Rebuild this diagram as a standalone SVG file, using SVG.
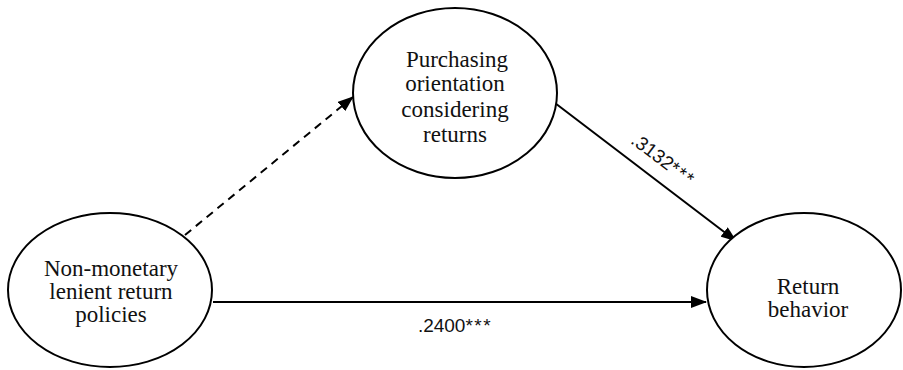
<svg xmlns="http://www.w3.org/2000/svg" width="903" height="370" viewBox="0 0 903 370">
<defs>
<style>
.node{fill:#fff;stroke:#000;stroke-width:2}
.lbl{font-family:"Liberation Serif","DejaVu Serif",serif;font-size:23px;fill:#111;text-anchor:middle}
.edge{stroke:#000;stroke-width:2;fill:none}
.coef{font-family:"Liberation Sans",Arial,sans-serif;font-size:19px;fill:#111;text-anchor:middle}
.st{letter-spacing:1.5px}
</style>
<marker id="ah" viewBox="0 0 16 12" refX="15" refY="6" markerWidth="16" markerHeight="12" markerUnits="userSpaceOnUse" orient="auto">
<path d="M0,0 L16,6 L0,12 Z" fill="#000"/>
</marker>
</defs>
<rect width="903" height="370" fill="#fff"/>
<g id="connectors">
<line class="edge" x1="185" y1="235" x2="353" y2="97" stroke-dasharray="8,6" marker-end="url(#ah)"/>
<line class="edge" x1="555" y1="103" x2="736" y2="241" marker-end="url(#ah)"/>
<line class="edge" x1="213" y1="302" x2="706" y2="302" marker-end="url(#ah)"/>
<text class="coef" x="455" y="332">.2400<tspan class="st">***</tspan></text>
<text class="coef" x="663" y="166" transform="rotate(37 663 160)">.3132<tspan class="st">***</tspan></text>
</g>
<g id="node-policies">
<ellipse class="node" cx="110" cy="290" rx="102" ry="77"/>
<text class="lbl" x="111" y="276">Non-monetary</text>
<text class="lbl" x="111" y="299">lenient return</text>
<text class="lbl" x="111" y="322">policies</text>
</g>
<g id="node-orientation">
<ellipse class="node" cx="455" cy="93" rx="102" ry="85"/>
<text class="lbl" x="457" y="67">Purchasing</text>
<text class="lbl" x="455" y="91">orientation</text>
<text class="lbl" x="455" y="117">considering</text>
<text class="lbl" x="455" y="142">returns</text>
</g>
<g id="node-behavior">
<ellipse class="node" cx="804" cy="290" rx="97" ry="77"/>
<text class="lbl" x="808" y="294">Return</text>
<text class="lbl" x="808" y="317">behavior</text>
</g>
</svg>
